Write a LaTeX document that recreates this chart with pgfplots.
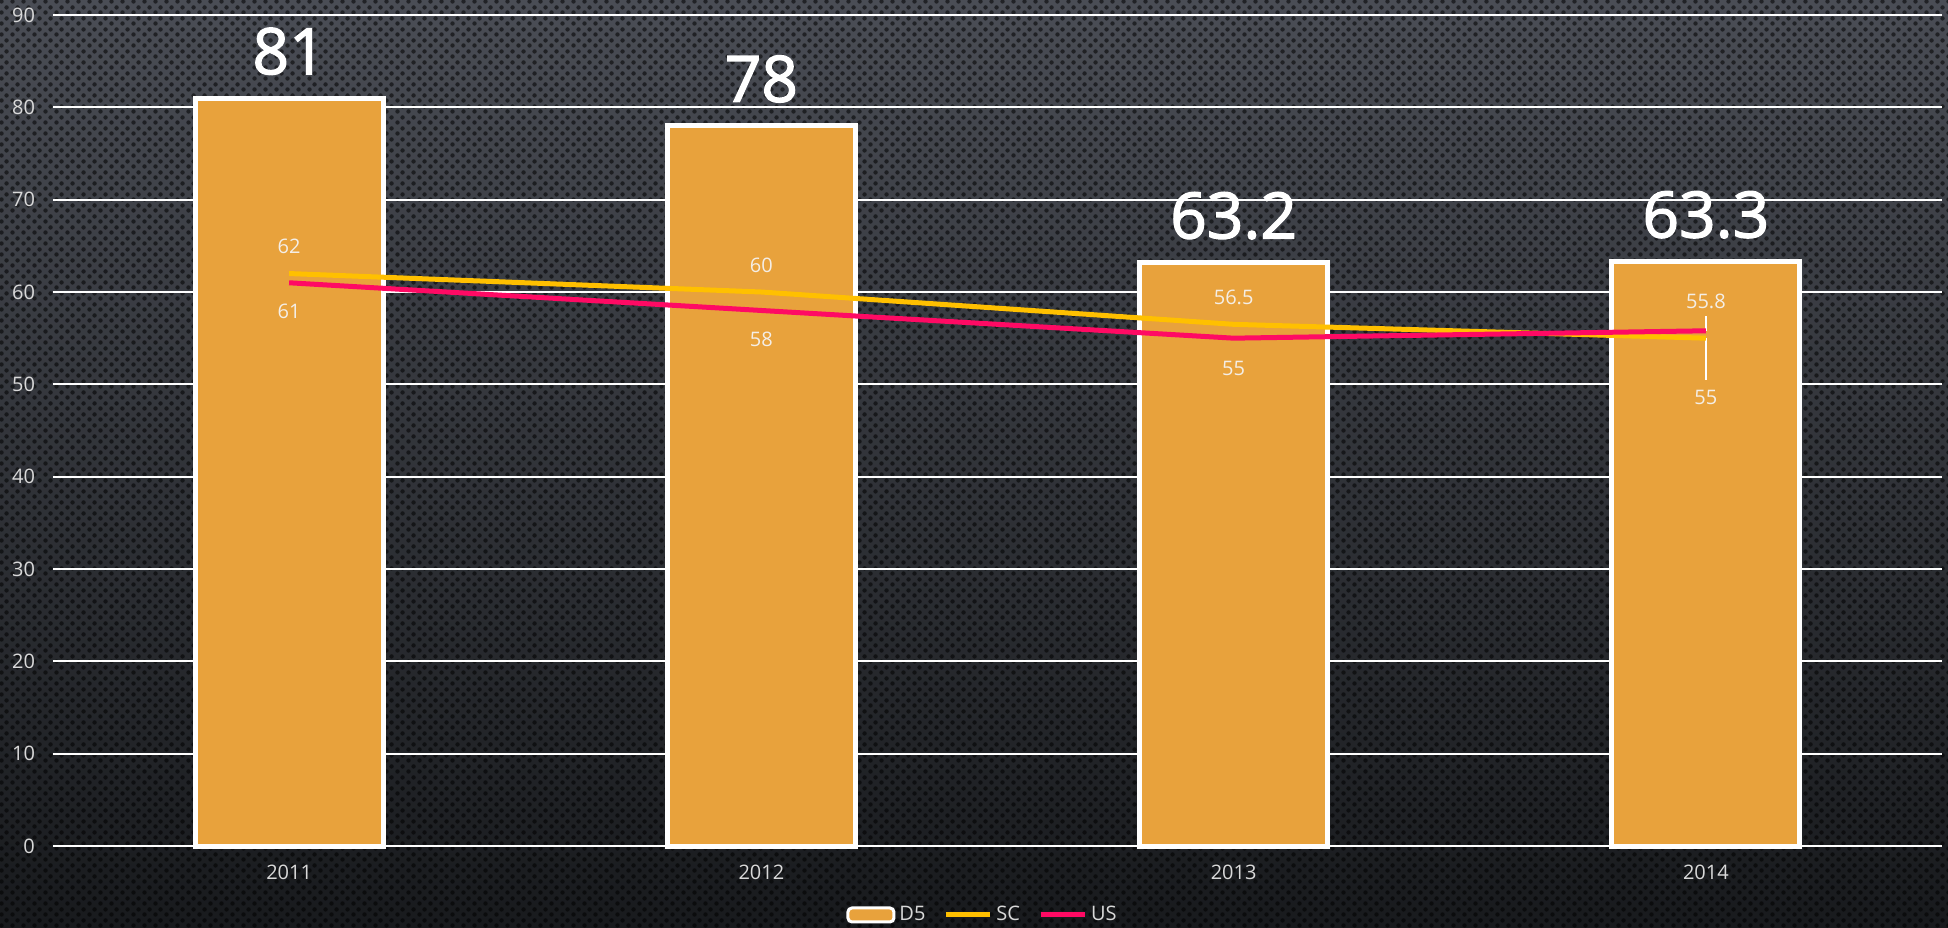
\documentclass[border=0pt]{standalone}
\usepackage{fontspec}
\setmainfont{Open Sans}
\newfontfamily\bigfont{Open Sans}[FakeBold=2]
\usepackage{pgfplots}
\pgfplotsset{compat=1.18}
\usetikzlibrary{patterns.meta}

\definecolor{barorange}{HTML}{E8A23C}
\definecolor{scyellow}{HTML}{FFC000}
\definecolor{uspink}{HTML}{FF0A64}
\definecolor{txtgray}{HTML}{D9D9D9}
\definecolor{lbl}{HTML}{F4EEE6}
\definecolor{bgtop}{HTML}{4A4D55}
\definecolor{bgmid}{HTML}{2C2F34}
\definecolor{bgbot}{HTML}{181A1D}

% dotted mesh texture of the background
\tikzdeclarepattern{
  name=meshdots, type=uncolored,
  bounding box={(0pt,0pt) and (5.5pt,5.5pt)},
  tile size={(5.5pt,5.5pt)},
  code={\fill (1.375pt,1.375pt) circle (1.2pt);
        \fill (4.125pt,4.125pt) circle (1.2pt);}
}

\begin{document}
\begin{tikzpicture}
\fill[top color=bgtop, middle color=bgmid, bottom color=bgbot] (0,0) rectangle (974pt,463.5pt);
\fill[pattern=meshdots, pattern color=black, fill opacity=0.55] (0,0) rectangle (974pt,463.5pt);
\begin{axis}[
    at={(26.5pt,40.5pt)}, anchor=south west,
    scale only axis,
    width=944.5pt,
    height=415.5pt,
    xmin=-0.5, xmax=3.5,
    ymin=0, ymax=90,
    xtick={0,1,2,3},
    xticklabels={2011,2012,2013,2014},
    ytick={0,10,...,90},
    axis line style={draw=none},
    major tick length=0pt,
    ymajorgrids,
    grid style={white, line width=1pt},
    clip=false,
    /pgf/number format/assume math mode=true,
    ticklabel style={font=\fontsize{10}{12}\selectfont, text=txtgray},
    yticklabel style={xshift=-5.5pt},
    xticklabel style={yshift=-6pt},
    legend columns=3,
    legend style={at={(0.4926,-0.083)}, anchor=center, draw=none, fill=none,
        font=\fontsize{10}{12}\selectfont, text=txtgray,
        /tikz/every odd column/.append style={column sep=0pt},
        /tikz/every even column/.append style={column sep=7pt}},
]
\addplot[ybar, bar width=94pt, fill=barorange, draw=white, line width=2.5pt,
    nodes near coords,
    every node near coord/.append style={font=\bigfont\fontsize{32}{32}\selectfont, text=white, anchor=base, yshift=12pt},
    legend image code/.code={\draw[fill=barorange, draw=white, line width=1.5pt, rounded corners=2pt] (0pt,-3.5pt) rectangle (23pt,3.5pt);}]
    coordinates {(0,81) (1,78) (2,63.2) (3,63.3)};
\addlegendentry{D5}

\draw[white, line width=1pt] (axis cs:3,57.4) -- (axis cs:3,55.8);
\draw[white, line width=1pt] (axis cs:3,55) -- (axis cs:3,50.5);

\addplot[scyellow, line width=2.5pt, mark=none,
    nodes near coords,
    visualization depends on={value \thisrow{off}\as\off},
    every node near coord/.append style={font=\fontsize{10}{12}\selectfont, text=lbl, anchor=center, yshift=\off pt},
    legend image code/.code={\draw[scyellow, line width=2.5pt] (0pt,0pt) -- (22pt,0pt);}]
    table {
x y off
0 62 13.5
1 60 13.5
2 56.5 13.5
3 55 -29.5
};
\addlegendentry{SC}

\addplot[uspink, line width=2.5pt, mark=none,
    nodes near coords,
    visualization depends on={value \thisrow{off}\as\off},
    every node near coord/.append style={font=\fontsize{10}{12}\selectfont, text=lbl, anchor=center, yshift=\off pt},
    legend image code/.code={\draw[uspink, line width=2.5pt] (0pt,0pt) -- (22pt,0pt);}]
    table {
x y off
0 61 -14.5
1 58 -14.5
2 55 -15
3 55.8 14.5
};
\addlegendentry{US}
\end{axis}
\pgfresetboundingbox
\path[use as bounding box] (0,0) rectangle (974pt,463.5pt);
\end{tikzpicture}
\end{document}
